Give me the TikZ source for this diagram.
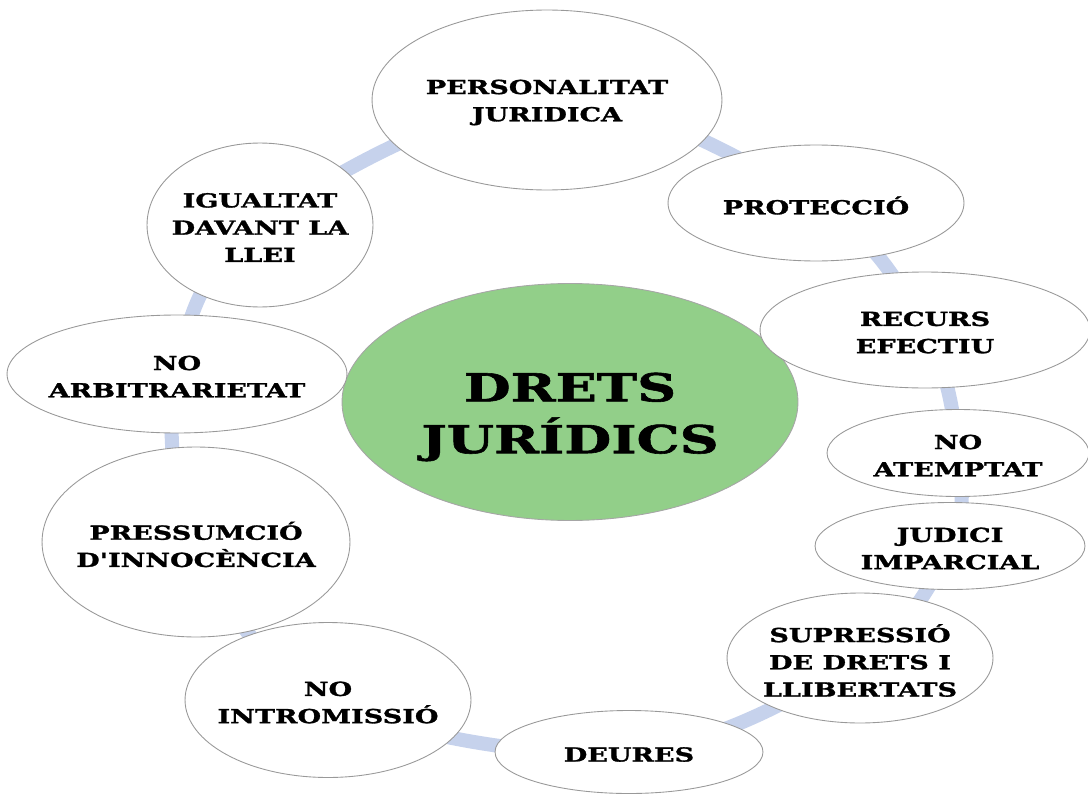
\documentclass[tikz,border=0pt]{standalone}
\usepackage{fontspec}
\usetikzlibrary{shapes.geometric,backgrounds}
\newfontfamily\labfont[FakeStretch=1.4,FakeBold=1.5]{DejaVu Serif}
\definecolor{ringblue}{RGB}{198,210,236}
\definecolor{centgreen}{RGB}{146,207,137}
\tikzset{
  bub/.style={ellipse, draw=gray!80, line width=0.5pt, fill=white, inner sep=0pt},
  hub/.style={ellipse, draw=gray!70, line width=0.5pt, fill=centgreen, inner sep=0pt},
  labtext/.style={inner sep=0pt, align=center, yshift=-0.05cm, font=\labfont\bfseries\fontsize{11}{15.5}\selectfont},
  hubtext/.style={inner sep=0pt, align=center, yshift=-0.3cm, font=\labfont\bfseries\fontsize{22}{29.5}\selectfont},
  ringline/.style={draw=ringblue, line width=8pt}
}
\begin{document}
\begin{tikzpicture}[x=0.02cm,y=-0.02cm]
\useasboundingbox (0,0) rectangle (1088,794);
\node[hub, minimum width=9.12cm, minimum height=4.74cm, label={[hubtext]center:{DRETS\\JURÍDICS}}] (hub) at (570,402) {};
\node[bub, minimum width=7.0cm, minimum height=3.6cm, label={[labtext]center:{PERSONALITAT\\JURIDICA}}] (pers) at (547,100) {};
\node[bub, minimum width=5.92cm, minimum height=2.32cm, label={[labtext]center:{PROTECCIÓ}}] (prot) at (816,203) {};
\node[bub, minimum width=6.6cm, minimum height=2.32cm, label={[labtext]center:{RECURS\\EFECTIU}}] (recu) at (925,330) {};
\node[bub, minimum width=5.24cm, minimum height=1.74cm, label={[labtext]center:{NO\\ATEMPTAT}}] (noat) at (958,453) {};
\node[bub, minimum width=5.4cm, minimum height=1.74cm, label={[labtext]center:{JUDICI\\IMPARCIAL}}] (judi) at (950,546) {};
\node[bub, minimum width=5.32cm, minimum height=2.6cm, label={[labtext]center:{SUPRESSIÓ\\DE DRETS I\\LLIBERTATS}}] (supr) at (860,658) {};
\node[bub, minimum width=5.36cm, minimum height=1.66cm, label={[labtext]center:{DEURES}}] (deur) at (629,752) {};
\node[bub, minimum width=5.72cm, minimum height=3.1cm, label={[labtext]center:{NO\\INTROMISSIÓ}}] (intr) at (328,700) {};
\node[bub, minimum width=6.16cm, minimum height=3.8cm, label={[labtext]center:{PRESSUMCIÓ\\D'INNOCÈNCIA}}] (pres) at (196,542) {};
\node[bub, minimum width=6.8cm, minimum height=2.36cm, label={[labtext]center:{NO\\ARBITRARIETAT}}] (arbi) at (177,374) {};
\node[bub, minimum width=4.52cm, minimum height=3.28cm, label={[labtext]center:{IGUALTAT\\DAVANT LA\\LLEI}}] (igua) at (260,225) {};
\begin{scope}[on background layer]
\draw[ringline] plot[smooth cycle, tension=0.6] coordinates {(pers) (prot) (recu) (noat) (judi) (supr) (deur) (intr) (pres) (arbi) (igua)};
\end{scope}
\end{tikzpicture}
\end{document}
